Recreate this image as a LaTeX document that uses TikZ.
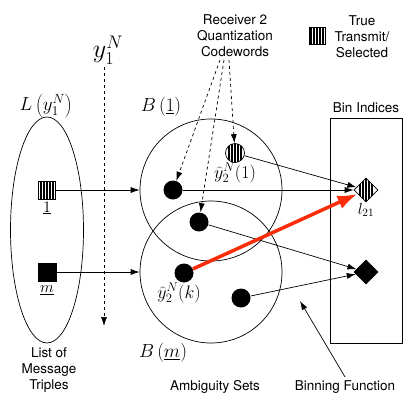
\documentclass[tikz,border=0pt]{standalone}
\usepackage{fix-cm}
\usepackage[no-math]{fontspec}
\setmainfont{TeX Gyre Heros}
\usetikzlibrary{arrows.meta,shapes.geometric}
\definecolor{hot}{RGB}{250,45,10}

\tikzset{
  striped/.style={path picture={
    \foreach \s in {-6,-3,0,3,6}
      \draw[line width=1.5pt] ([xshift=\s pt]path picture bounding box.north) -- ([xshift=\s pt]path picture bounding box.south);}},
  stripesq/.style={draw,rectangle,inner sep=0,minimum width=17,minimum height=18,striped},
  blacksq/.style={draw,fill,rectangle,inner sep=0,minimum size=18},
  dot/.style={circle,fill,inner sep=0,minimum size=19},
  stripedot/.style={circle,draw,inner sep=0,minimum size=19,striped},
  diam/.style={diamond,draw,inner sep=0,minimum size=24},
  set/.style={draw,circle,inner sep=0,minimum size=142},
  biglbl/.style={font=\fontsize{19}{22}\selectfont},
  midlbl/.style={font=\fontsize{16}{18}\selectfont},
  cwlbl/.style={font=\fontsize{18}{20}\selectfont,inner sep=0}
}

\begin{document}
\begin{tikzpicture}[x=1pt,y=-1pt,>={Latex[length=9pt,width=6pt]},line width=0.7pt,
    every node/.style={font=\fontsize{13.5}{16}\selectfont}]
  \useasboundingbox (0,0) rectangle (415,405);

  % message list
  \node[draw,ellipse,minimum width=73,minimum height=226] (list) at (47,230) {};
  \node[biglbl] (listlbl) at (46,106) {$L\left(y_1^N\right)$};
  \node[stripesq] (sq1) at (47,190) {};
  \node[midlbl] at (47,208) {$\underline{1}$};
  \node[blacksq] (sqm) at (47,272) {};
  \node[midlbl] at (47,290) {$\underline{m}$};
  \node[align=center] (listtxt) at (49,370) {List of\\Message\\Triples};

  % observation
  \node[font=\fontsize{26}{28}\selectfont] (y1) at (108,50) {$y_1^N$};
  \coordinate (ytop) at (104,67);
  \coordinate (ybot) at (104,326);
  \draw[->,dashed] (ytop) -- (ybot);

  % ambiguity sets
  \node[set] (B1) at (211,190) {};
  \node[set] (Bm) at (211,272) {};
  \node[biglbl] (B1lbl) at (161,107) {$B\left(\underline{1}\right)$};
  \node[biglbl] (Bmlbl) at (163,353) {$B\left(\underline{m}\right)$};
  \node (amb) at (215,387) {Ambiguity Sets};

  \node[dot] (c1) at (173,190) {};
  \node[dot] (c2) at (199,222) {};
  \node[dot] (ck) at (184,273) {};
  \node[dot] (c3) at (241,298) {};
  \node[stripedot] (c0) at (235,153) {};
  \node[cwlbl] (c0lbl) at (235,173) {$\widehat{y}_2^N(1)$};
  \node[cwlbl] (cklbl) at (179,293) {$\widehat{y}_2^N(k)$};

  % codewords
  \node[align=center] (cw) at (235,36) {Receiver 2\\Quantization\\Codewords};
  \coordinate (q1) at (220,60);
  \coordinate (q2) at (224,60);
  \coordinate (q3) at (229,60);
  \draw[->,dashed] (q1) -- (c1);
  \draw[->,dashed] (q2) -- (c2);
  \draw[->,dashed] (q3) -- (c0);

  % bins
  \node[draw,inner sep=0,minimum width=72,minimum height=225] (bins) at (366,230.5) {};
  \node[above=1pt] at (bins.north) {Bin Indices};
  \node[diam,striped] (l21) at (366,190) {};
  \node[midlbl] (l21lbl) at (366,210) {$l_{21}$};
  \node[diam,fill] (lk) at (366,272) {};

  % legend
  \node[stripesq,minimum width=16,minimum height=17] (leg) at (317,36) {};
  \node[align=center] (legtxt) at (362,37) {True\\Transmit/\\Selected};

  % connectors
  \draw[->] (sq1) -- (B1.west);
  \draw[->] (sqm) -- (Bm.west);
  \draw[->] (c1) -- (l21);
  \draw[->] (c0) -- (l21);
  \draw[->] (c2) -- (lk);
  \draw[->] (c3) -- (lk);
  \draw[-{Latex[length=20pt,width=14pt]},hot,line width=3.5pt] (ck) -- (l21);

  \node (binfn) at (345,387) {Binning Function};
  \coordinate (binpt) at (300,301);
  \draw[->] (binfn.north) -- (binpt);
\end{tikzpicture}
\end{document}
